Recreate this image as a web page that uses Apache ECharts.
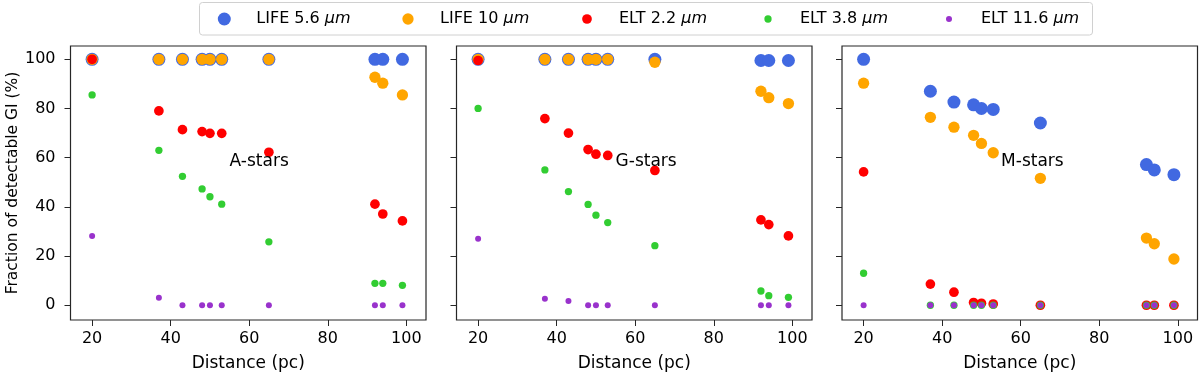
<!DOCTYPE html>
<html>
<head>
<meta charset="utf-8">
<script src="https://cdn.jsdelivr.net/npm/echarts@6/dist/echarts.min.js"></script>
<style>
  html, body { margin: 0; padding: 0; background: #fff; }
  #chart { width: 1200px; height: 377px; }
</style>
</head>
<body>
<div id="chart"></div>
<script>
// distances (pc), shared by all three panels
const distance = [20, 37, 43, 48, 50, 53, 65, 92, 94, 99];
const panelNames = ["A-stars", "G-stars", "M-stars"];
const seriesNames = ["LIFE 5.6 μm", "LIFE 10 μm", "ELT 2.2 μm", "ELT 3.8 μm", "ELT 11.6 μm"];

// A-stars
const aLife56 = [100, 100, 100, 100, 100, 100, 100, 100, 100, 100];
const aLife10 = [100, 100, 100, 100, 100, 100, 100, 92.7, 90.3, 85.5];
const aElt22 = [100, 79.0, 71.4, 70.6, 69.9, 69.9, 62.2, 41.1, 37.1, 34.3];
const aElt38 = [85.5, 63.0, 52.4, 47.3, 44.1, 41.1, 25.8, 8.9, 8.9, 8.1];
const aElt116 = [28.2, 3.0, 0, 0, 0, 0, 0, 0, 0, 0];

// G-stars
const gLife56 = [100, 100, 100, 100, 100, 100, 100, 99.5, 99.5, 99.5];
const gLife10 = [100, 100, 100, 100, 100, 100, 98.8, 87.0, 84.4, 82.0];
const gElt22 = [99.5, 75.9, 70.0, 63.3, 61.4, 60.9, 54.8, 34.7, 32.8, 28.2];
const gElt38 = [80.0, 55.0, 46.2, 41.0, 36.6, 33.6, 24.2, 5.8, 3.9, 3.2];
const gElt116 = [27.0, 2.6, 1.7, 0, 0, 0, 0, 0, 0, 0];

// M-stars
const mLife56 = [100, 87.0, 82.6, 81.5, 80.0, 79.6, 74.1, 57.2, 55.0, 53.1];
const mLife10 = [90.3, 76.4, 72.4, 69.1, 65.8, 62.0, 51.6, 27.3, 25.0, 18.8];
const mElt22 = [54.2, 8.6, 5.3, 1.1, 0.8, 0.5, 0, 0, 0, 0];
const mElt38 = [13.0, 0, 0, 0, 0, 0, 0, 0, 0, 0];
const mElt116 = [0, 0, 0, 0, 0, 0, 0, 0, 0, 0];

const xTicks = [20, 40, 60, 80, 100];
const yTicks = [0, 20, 40, 60, 80, 100];

const panelData = [
  [aLife56, aLife10, aElt22, aElt38, aElt116],
  [gLife56, gLife10, gElt22, gElt38, gElt116],
  [mLife56, mLife10, mElt22, mElt38, mElt116]
];

const colors = ["#4169E1", "#FFA500", "#FF0000", "#32CD32", "#9932CC"];
const sizes = [13, 11.3, 9.7, 7.3, 6];

const font = "DejaVu Sans";
const frameColor = "#262626";
const gridLeft = [70.5, 456.5, 842];

const grids = gridLeft.map(left => ({
  left, top: 46, width: 355.5, height: 276,
  show: true, borderColor: frameColor, borderWidth: 1.2, containLabel: false
}));

const xAxes = gridLeft.map((_, i) => ({
  type: "value", gridIndex: i, min: 14.5, max: 105,
  name: "Distance (pc)", nameLocation: "middle", nameGap: 35,
  nameTextStyle: { fontFamily: font, fontSize: 17, color: "#000" },
  axisLine: { show: false, onZero: false },
  axisTick: { show: true, length: 6, lineStyle: { color: frameColor }, customValues: xTicks },
  axisLabel: { fontFamily: font, fontSize: 16, color: "#000", margin: 11, customValues: xTicks },
  splitLine: { show: false }
}));

const yAxes = gridLeft.map((_, i) => ({
  type: "value", gridIndex: i, min: -6, max: 105.4,
  name: i === 0 ? "Fraction of detectable GI (%)" : "",
  nameLocation: "middle", nameGap: 50,
  nameTextStyle: { fontFamily: font, fontSize: 15.5, color: "#000" },
  axisLine: { show: false, onZero: false },
  axisTick: { show: true, length: 6, lineStyle: { color: frameColor }, customValues: yTicks },
  axisLabel: { show: i === 0, fontFamily: font, fontSize: 16, color: "#000", margin: 15, customValues: yTicks },
  splitLine: { show: false }
}));

const series = [];
panelData.forEach((sets, p) => {
  sets.forEach((vals, k) => {
    const s = {
      name: seriesNames[k],
      type: "scatter",
      xAxisIndex: p, yAxisIndex: p,
      symbol: "circle",
      symbolSize: sizes[k],
      itemStyle: { color: colors[k], opacity: 1 },
      data: distance.map((d, j) => [d, vals[j]]),
      emphasis: { disabled: true }
    };
    if (k === 0) {
      s.markPoint = {
        silent: true,
        symbol: "circle", symbolSize: 0,
        label: {
          show: true, position: "right", distance: 0,
          formatter: panelNames[p],
          fontFamily: font, fontSize: 17, color: "#000"
        },
        data: [{ coord: [55, 58.5] }]
      };
    }
    series.push(s);
  });
});

// legend: one component per entry so each marker keeps its own size
const legendCenters = [224.3, 408, 587, 768, 949];
const legends = seriesNames.map((name, k) => ({
  data: [name],
  left: legendCenters[k] - sizes[k] / 2,
  top: 9,
  padding: 0,
  icon: "circle",
  itemWidth: sizes[k], itemHeight: sizes[k],
  selectedMode: false,
  formatter: n => `{s|}{n|${n.replace(" μm", "")} }{i|μm}`,
  textStyle: {
    color: "#000", lineHeight: 20,
    rich: {
      s: { width: 27 - sizes[k] / 2 },
      n: { fontFamily: font, fontSize: 16, color: "#000" },
      i: { fontFamily: font, fontSize: 16, fontStyle: "italic", color: "#000" }
    }
  }
}));

const chart = echarts.init(document.getElementById("chart"));
chart.setOption({
  animation: false,
  grid: grids,
  xAxis: xAxes,
  yAxis: yAxes,
  legend: legends,
  graphic: [{
    type: "rect", silent: true,
    shape: { x: 199.5, y: 2.5, width: 893, height: 32.5, r: 3 },
    style: { fill: "none", stroke: "#d0d0d0", lineWidth: 1 }
  }],
  series
});
</script>
</body>
</html>
